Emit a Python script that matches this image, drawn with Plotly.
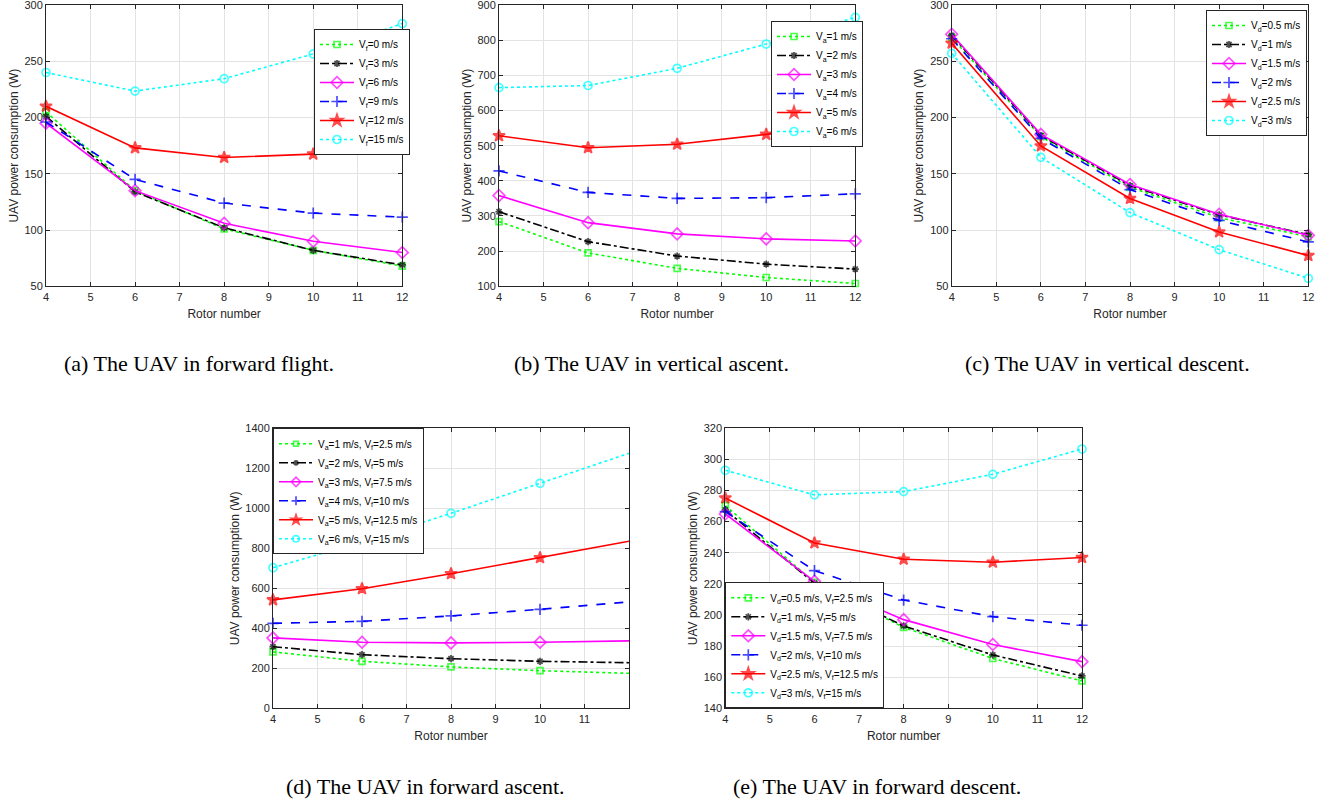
import plotly.graph_objects as go

W, H = 1331, 801

rotors = [4, 6, 8, 10, 12]

# (a) forward flight
labels_a = ["V<sub>f</sub>=0 m/s", "V<sub>f</sub>=3 m/s", "V<sub>f</sub>=6 m/s",
            "V<sub>f</sub>=9 m/s", "V<sub>f</sub>=12 m/s", "V<sub>f</sub>=15 m/s"]
vals_a = [
    [205, 135, 101, 82, 68],
    [201, 134, 102, 82, 69],
    [195, 135, 106, 90, 80],
    [196, 145, 124, 115, 111.5],
    [210, 173, 164.5, 167.5, 175.5],
    [240, 223.5, 234.5, 256.5, 283.5],
]

# (b) vertical ascent
labels_b = ["V<sub>a</sub>=1 m/s", "V<sub>a</sub>=2 m/s", "V<sub>a</sub>=3 m/s",
            "V<sub>a</sub>=4 m/s", "V<sub>a</sub>=5 m/s", "V<sub>a</sub>=6 m/s"]
vals_b = [
    [284, 195, 151, 125, 108],
    [312, 227, 186, 163, 149],
    [358, 281, 249, 235, 229],
    [428, 367, 350, 352, 363],
    [528, 494, 504, 532, 567],
    [665, 671, 720, 789, 865],
]

# (c) vertical descent
labels_c = ["V<sub>d</sub>=0.5 m/s", "V<sub>d</sub>=1 m/s", "V<sub>d</sub>=1.5 m/s",
            "V<sub>d</sub>=2 m/s", "V<sub>d</sub>=2.5 m/s", "V<sub>d</sub>=3 m/s"]
vals_c = [
    [271, 183, 138, 111, 94],
    [273, 184, 139.5, 113.5, 96],
    [274, 185, 140.5, 114, 95.3],
    [270, 181.5, 136, 108.6, 89.4],
    [266, 174.7, 128, 98.3, 77.3],
    [257, 164.6, 115.5, 82.6, 57.1],
]

# (d) forward ascent
labels_d = ["V<sub>a</sub>=1 m/s, V<sub>f</sub>=2.5 m/s", "V<sub>a</sub>=2 m/s, V<sub>f</sub>=5 m/s",
            "V<sub>a</sub>=3 m/s, V<sub>f</sub>=7.5 m/s", "V<sub>a</sub>=4 m/s, V<sub>f</sub>=10 m/s",
            "V<sub>a</sub>=5 m/s, V<sub>f</sub>=12.5 m/s", "V<sub>a</sub>=6 m/s, V<sub>f</sub>=15 m/s"]
vals_d = [
    [282, 235, 207, 188, 175],
    [308, 268, 248, 235, 228],
    [352, 330, 327, 330, 337],
    [425, 435, 462, 495, 532],
    [542, 598, 673, 753, 835],
    [703, 832, 975, 1125, 1275],
]

# (e) forward descent
labels_e = ["V<sub>d</sub>=0.5 m/s, V<sub>f</sub>=2.5 m/s", "V<sub>d</sub>=1 m/s, V<sub>f</sub>=5 m/s",
            "V<sub>d</sub>=1.5 m/s, V<sub>f</sub>=7.5 m/s", "V<sub>d</sub>=2 m/s, V<sub>f</sub>=10 m/s",
            "V<sub>d</sub>=2.5 m/s, V<sub>f</sub>=12.5 m/s", "V<sub>d</sub>=3 m/s, V<sub>f</sub>=15 m/s"]
vals_e = [
    [270.3, 221, 192, 172, 157.6],
    [267.5, 220.4, 193, 174.3, 160.8],
    [264.9, 221.6, 197, 181, 170],
    [266.4, 228.5, 209.6, 198.9, 193.4],
    [275.2, 246.3, 235.8, 233.9, 236.9],
    [293, 277.2, 279.3, 290.4, 306.7],
]

captions = ["(a) The UAV in forward flight.", "(b) The UAV in vertical ascent.",
            "(c) The UAV in vertical descent.", "(d) The UAV in forward ascent.",
            "(e) The UAV in forward descent."]

styles = [
    dict(color="#00ff00", dash="dot", symbol="square-open", size=6),
    dict(color="#000000", dash="dashdot", symbol="asterisk-open", size=6),
    dict(color="#ff00ff", dash="solid", symbol="diamond-open", size=9),
    dict(color="#0000ff", dash="dash", symbol="cross-thin-open", size=8),
    dict(color="#ff0000", dash="solid", symbol="star", size=9),
    dict(color="#00ffff", dash="dot", symbol="circle-open", size=8),
]

# panel pixel boxes: left, right, top, bottom
panels = [
    dict(box=(46, 402.3, 5, 286.3), yr=(50, 300), dt=50, xt=list(range(4, 13)),
         labels=labels_a, vals=vals_a, leg=dict(x=314, y=29, anchor="top"), cap=(199, 363)),
    dict(box=(499, 855.3, 5, 286.3), yr=(100, 900), dt=100, xt=list(range(4, 13)),
         labels=labels_b, vals=vals_b, leg=dict(x=771, y=21, anchor="top"), cap=(651, 363)),
    dict(box=(951.7, 1308.3, 5, 286.3), yr=(50, 300), dt=50, xt=list(range(4, 13)),
         labels=labels_c, vals=vals_c, leg=dict(x=1206, y=10, anchor="top"), cap=(1107, 363)),
    dict(box=(273, 629, 428.3, 708.3), yr=(0, 1400), dt=200, xt=list(range(4, 12)),
         labels=labels_d, vals=vals_d, leg=dict(x=273, y=428.3, anchor="top"), cap=(425, 786), hide_last=True),
    dict(box=(725.3, 1082, 428.3, 708.3), yr=(140, 320), dt=20, xt=list(range(4, 13)),
         labels=labels_e, vals=vals_e, leg=dict(x=725.3, y=708.3, anchor="bottom"), cap=(877, 786)),
]

fig = go.Figure()
font_sans = "Liberation Sans, Arial, sans-serif"
axcol = "#262626"

for i, p in enumerate(panels, start=1):
    l, r, t, b = p["box"]
    sfx = "" if i == 1 else str(i)
    legname = "legend" if i == 1 else f"legend{i}"
    for k, (lab, ys) in enumerate(zip(p["labels"], p["vals"])):
        s = styles[k]
        sizes = [s["size"]] * len(rotors)
        if p.get("hide_last"):
            sizes[-1] = 0
        fig.add_trace(go.Scatter(
            x=rotors, y=ys, name=lab, mode="lines+markers",
            xaxis="x" + sfx, yaxis="y" + sfx, legend=legname,
            line=dict(color=s["color"], dash=s["dash"], width=1.6),
            marker=dict(symbol=s["symbol"], size=sizes, color=s["color"],
                        line=dict(color=s["color"], width=1.7)),
            cliponaxis=False,
        ))
    common = dict(showline=True, linecolor=axcol, linewidth=1, mirror="ticks",
                  ticks="inside", ticklen=4, tickcolor=axcol, showgrid=True,
                  gridcolor="#e3e3e3", gridwidth=1, zeroline=False, automargin=False,
                  ticklabeloverflow="allow",
                  tickfont=dict(family=font_sans, size=11, color=axcol))
    fig.update_layout(**{
        "xaxis" + sfx: dict(domain=[l / W, r / W], anchor="y" + sfx, range=[4, 12],
                            tickvals=p["xt"], ticktext=[str(v) for v in p["xt"]],
                            title=dict(text="Rotor number", standoff=8,
                                       font=dict(family=font_sans, size=12, color=axcol)),
                            **common),
        "yaxis" + sfx: dict(domain=[1 - b / H, 1 - t / H], anchor="x" + sfx, range=list(p["yr"]),
                            dtick=p["dt"], tick0=p["yr"][0],
                            title=dict(text="UAV power consumption (W)", standoff=3,
                                       font=dict(family=font_sans, size=12, color=axcol)),
                            **common),
        legname: dict(x=p["leg"]["x"] / W, y=1 - p["leg"]["y"] / H, xanchor="left",
                      yanchor=p["leg"]["anchor"], bgcolor="white", bordercolor=axcol,
                      borderwidth=1, itemwidth=34, tracegroupgap=0,
                      font=dict(family=font_sans, size=10, color="#000000")),
    })
    fig.add_annotation(x=p["cap"][0] / W, y=1 - p["cap"][1] / H, xref="paper", yref="paper",
                       text=captions[i - 1], showarrow=False, xanchor="center", yanchor="middle",
                       font=dict(family="Liberation Serif, Times New Roman, serif", size=22, color="#000000"))

fig.update_layout(width=W, height=H, margin=dict(l=0, r=0, t=0, b=0, autoexpand=False),
                  paper_bgcolor="white", plot_bgcolor="white", showlegend=True)

fig.write_html("out.html", config={"displayModeBar": False},
               post_script="document.body.style.margin='0px';")
